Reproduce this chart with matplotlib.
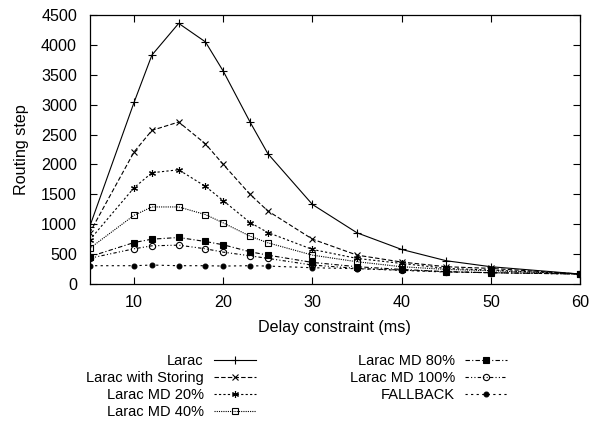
import matplotlib
matplotlib.use("Agg")
import matplotlib.pyplot as plt

plt.rcParams['font.family'] = ['Liberation Sans', 'DejaVu Sans']

delay = [5, 10, 12, 15, 18, 20, 23, 25, 30, 35, 40, 45, 50, 60]
larac = [950, 3040, 3830, 4360, 4050, 3560, 2710, 2180, 1330, 856, 578, 389, 289, 167]
larac_storing = [850, 2210, 2570, 2710, 2345, 2000, 1500, 1222, 750, 483, 367, 289, 261, 167]
larac_md20 = [733, 1611, 1861, 1911, 1633, 1394, 1028, 861, 578, 428, 344, 261, 233, 167]
larac_md40 = [594, 1150, 1289, 1289, 1161, 1022, 800, 689, 483, 372, 289, 244, 222, 167]
larac_md80 = [456, 694, 750, 778, 711, 656, 539, 483, 361, 289, 244, 206, 189, 167]
larac_md100 = [430, 589, 639, 650, 589, 533, 472, 428, 317, 261, 233, 206, 189, 167]
fallback = [306, 306, 317, 306, 306, 300, 306, 300, 272, 256, 228, 200, 189, 167]

labels = ["Larac", "Larac with Storing", "Larac MD 20%", "Larac MD 40%",
          "Larac MD 80%", "Larac MD 100%", "FALLBACK"]
series = [larac, larac_storing, larac_md20, larac_md40, larac_md80, larac_md100, fallback]

styles = [
    dict(ls='-', marker='+', ms=5.5, mfc='black'),
    dict(ls=(0, (4, 2)), marker='x', ms=4.5, mfc='black'),
    dict(ls=(0, (2, 2)), marker=(6, 2, 0), ms=5, mfc='black'),
    dict(ls=(0, (1, 1)), marker='s', ms=4.5, mfc='none'),
    dict(ls=(0, (4, 2, 1, 2)), marker='s', ms=4.5, mfc='black'),
    dict(ls=(0, (3, 2, 1, 2, 1, 2)), marker='o', ms=4.5, mfc='none'),
    dict(ls=(0, (2, 3)), marker='o', ms=3.5, mfc='black'),
]

fig = plt.figure(figsize=(5.91, 4.26), dpi=100)
ax = fig.add_axes([89.5/591, 1-284/426, (580-89.5)/591, (284-15)/426])

for lab, ys, st in zip(labels, series, styles):
    ax.plot(delay, ys, color='black', lw=0.8, mec='black', mew=0.8, label=lab, **st)

ax.set_xlim(5, 60)
ax.set_ylim(0, 4500)
ax.set_xticks([10, 20, 30, 40, 50, 60])
ax.set_yticks(range(0, 4501, 500))
ax.tick_params(direction='in', top=True, right=True, length=5, width=0.8, labelsize=11.6)
ax.tick_params(axis='x', pad=8)
ax.tick_params(axis='y', pad=9)
for s in ax.spines.values():
    s.set_linewidth(0.9)
ax.set_xlabel("Delay constraint (ms)", fontsize=11.6, labelpad=7)
ax.set_ylabel("Routing step", fontsize=11.6)
ax.yaxis.set_label_coords(-(89.5 - 29) / 490.5, 0.5)

handles, labs = ax.get_legend_handles_labels()
fig.legend(handles, labs, loc='upper left', bbox_to_anchor=(86/591, 1-354/426),
           ncol=2, frameon=False, markerfirst=False, fontsize=10.5,
           borderpad=0, borderaxespad=0, handlelength=2.9, handletextpad=0.7,
           labelspacing=0.2, columnspacing=6.4)

fig.savefig("out.png", dpi=100)
